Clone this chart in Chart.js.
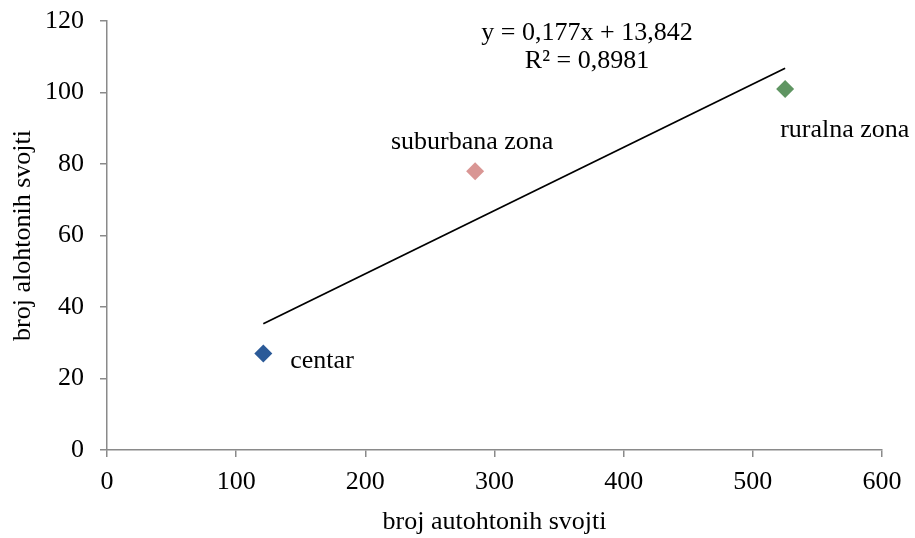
<!DOCTYPE html>
<html>
<head>
<meta charset="utf-8">
<script src="https://cdn.jsdelivr.net/npm/chart.js@4"></script>
<style>
  body { margin: 0; background: #fff; }
  #myCanvas { display: block; }
</style>
</head>
<body>
<canvas id="myCanvas" width="915" height="538"></canvas>
<script>
// podaci
let zone = ['centar', 'suburbana zona', 'ruralna zona']
let autohtone = [121, 285, 525]
let alohtone = [27, 78, 101]
let boje = ['#2B5A98', '#D99694', '#5F9562']
let trendX = [121, 525]
let trendY = [35.3, 106.8]
let xTicks = [0, 100, 200, 300, 400, 500, 600]
let yTicks = [0, 20, 40, 60, 80, 100, 120]
let jednadzba = ['y = 0,177x + 13,842', 'R² = 0,8981']

let font = '"Liberation Serif", "Times New Roman", serif'
let siva = '#8A8A8A'

// pomak natpisa od tocke (px)
let pomaci = [
    {dx: 27, dy: 8, align: 'left'},
    {dx: -3, dy: -29, align: 'center'},
    {dx: -5, dy: 41, align: 'left'}
]

let natpisi = {
    id: 'natpisi',
    afterDatasetsDraw(chart) {
        let ctx = chart.ctx
        ctx.save()
        ctx.font = '26px ' + font
        ctx.fillStyle = '#000'
        ctx.textBaseline = 'middle'
        zone.forEach((z, i) => {
            let el = chart.getDatasetMeta(0).data[i]
            ctx.textAlign = pomaci[i].align
            ctx.fillText(z, el.x + pomaci[i].dx, el.y + pomaci[i].dy)
        })
        let a = chart.chartArea
        ctx.textAlign = 'center'
        ctx.fillText(jednadzba[0], a.left + 480, 33)
        ctx.fillText(jednadzba[1], a.left + 480, 61)
        ctx.restore()
    }
}

let grafic = document.querySelector('#myCanvas').getContext('2d')
let myChart = new Chart(grafic, {
    type: 'scatter',
    data: {
        datasets: [{
            data: autohtone.map((x, i) => ({x: x, y: alohtone[i]})),
            backgroundColor: boje,
            borderWidth: 0,
            pointStyle: 'rectRot',
            pointRadius: 9,
            order: 1
        },
        {
            type: 'line',
            data: trendX.map((x, i) => ({x: x, y: trendY[i]})),
            borderColor: '#000',
            borderWidth: 1.8,
            pointRadius: 0,
            fill: false,
            order: 2
        }]
    },
    options: {
        responsive: false,
        animation: false,
        layout: {
            padding: {top: 21, right: 33, left: 0, bottom: 0}
        },
        scales: {
            x: {
                type: 'linear',
                min: 0,
                max: 600,
                afterBuildTicks: s => { s.ticks = xTicks.map(v => ({value: v})) },
                afterFit: s => { s.height = 88; s.paddingLeft = 0; s.paddingRight = 0 },
                ticks: {
                    color: '#000',
                    font: {family: font, size: 26},
                    padding: 10,
                    maxRotation: 0
                },
                grid: {drawOnChartArea: false, color: siva, tickLength: 7, lineWidth: 1.5},
                border: {color: siva, width: 1.5},
                title: {
                    display: true,
                    text: 'broj autohtonih svojti',
                    color: '#000',
                    font: {family: font, size: 26},
                    padding: {top: 0, bottom: 0}
                }
            },
            y: {
                min: 0,
                max: 120,
                afterBuildTicks: s => { s.ticks = yTicks.map(v => ({value: v})) },
                afterFit: s => { s.width = 107; s.paddingTop = 0; s.paddingBottom = 0 },
                ticks: {
                    color: '#000',
                    font: {family: font, size: 26},
                    padding: 16
                },
                grid: {drawOnChartArea: false, color: siva, tickLength: 7, lineWidth: 1.5},
                border: {color: siva, width: 1.5},
                title: {
                    display: true,
                    text: 'broj alohtonih svojti',
                    color: '#000',
                    font: {family: font, size: 26},
                    padding: {top: 8, bottom: 0}
                }
            }
        },
        plugins: {
            legend: {display: false},
            tooltip: {enabled: false}
        }
    },
    plugins: [natpisi]
})
</script>
</body>
</html>
